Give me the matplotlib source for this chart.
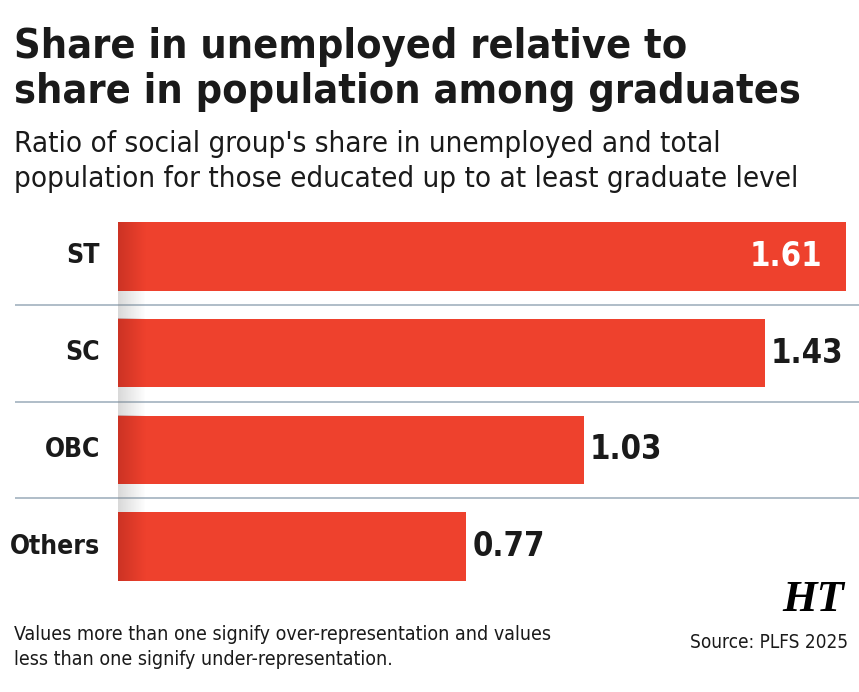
import numpy as np
import matplotlib.pyplot as plt

groups = ['ST', 'SC', 'OBC', 'Others']
ratios = [1.61, 1.43, 1.03, 0.77]
value_labels = ['1.61', '1.43', '1.03', '0.77']

title = 'Share in unemployed relative to\nshare in population among graduates'
subtitle = ("Ratio of social group's share in unemployed and total\n"
            "population for those educated up to at least graduate level")
note = ('Values more than one signify over-representation and values\n'
        'less than one signify under-representation.')
source = 'Source: PLFS 2025'

W, H = 859, 692
bar_red = '#ee412d'
line_col = '#a9b8c4'
ink = '#1a1a1a'

plt.rcParams['font.family'] = 'DejaVu Sans'
plt.rcParams['font.stretch'] = 'condensed'

fig = plt.figure(figsize=(W / 100, H / 100), dpi=100)
fig.patch.set_facecolor('white')

# axes placed in pixel terms: bars start at x=118 and ST ends at the right edge
left, right = 118, 846
top, bottom = 208, 595
ax = fig.add_axes([left / W, 1 - bottom / H, (right - left) / W, (bottom - top) / H])
ax.axis('off')

y = np.arange(len(groups))
ax.barh(y, ratios, height=0.71, color=bar_red, zorder=2)

# separators between rows
px = max(ratios) / (right - left)
ax.hlines([0.5, 1.5, 2.5], -103 * px, max(ratios) + 13 * px, color=line_col, lw=1.3,
          clip_on=False, zorder=1)

# soft shading along the left edge of the bars
grad = np.linspace(1, 0, 64).reshape(1, -1)
for yi in y:
    ax.imshow(np.dstack([np.full_like(grad, 0.55), np.full_like(grad, 0.1), np.full_like(grad, 0.08), grad * 0.35]),
              extent=(0, 28 * px, yi + 0.355, yi - 0.355), aspect='auto', zorder=3,
              interpolation='bilinear')
for yb in [0.5, 1.5, 2.5]:
    ax.imshow(np.dstack([np.full_like(grad, 0.5), np.full_like(grad, 0.5), np.full_like(grad, 0.5), grad * 0.3]),
              extent=(0, 28 * px, yb + 0.145, yb - 0.145), aspect='auto', zorder=1,
              interpolation='bilinear')
ax.set_xlim(0, max(ratios))
ax.set_ylim(len(groups) - 0.5, -0.5)

for yi, g in zip(y, groups):
    ax.text(-18 * px, yi, g, ha='right', va='center', fontsize=19, fontweight='bold',
            color=ink, clip_on=False)

for i, (v, lab) in enumerate(zip(ratios, value_labels)):
    if i == 0:
        ax.text(v - 24 * px, i, lab, ha='right', va='center', fontsize=23.5, fontweight='bold',
                color='white', zorder=4)
    else:
        ax.text(v + 6 * px, i, lab, ha='left', va='center', fontsize=23.5, fontweight='bold',
                color=ink, clip_on=False)

title_lines = title.split('\n')
sub_lines = subtitle.split('\n')
note_lines = note.split('\n')
fig.text(14 / W, 1 - 58 / H, title_lines[0], ha='left', va='baseline', fontsize=29.6,
         fontweight='bold', color=ink)
fig.text(14 / W, 1 - 103 / H, title_lines[1], ha='left', va='baseline', fontsize=29.6,
         fontweight='bold', color=ink)
fig.text(14 / W, 1 - 152 / H, sub_lines[0], ha='left', va='baseline', fontsize=21.2,
         color=ink)
fig.text(14 / W, 1 - 187 / H, sub_lines[1], ha='left', va='baseline', fontsize=21.2,
         color=ink)
fig.text(14 / W, 1 - 640 / H, note_lines[0], ha='left', va='baseline', fontsize=14,
         color=ink)
fig.text(14 / W, 1 - 665 / H, note_lines[1], ha='left', va='baseline', fontsize=14,
         color=ink)
fig.text(848 / W, 1 - 648 / H, source, ha='right', va='baseline', fontsize=13.6,
         color=ink)
fig.text(844 / W, 1 - 611 / H, 'HT', ha='right', va='baseline', fontsize=32,
         fontweight='bold', style='italic', family='Liberation Serif', color='black')

fig.savefig('out.png', dpi=100, facecolor='white')
